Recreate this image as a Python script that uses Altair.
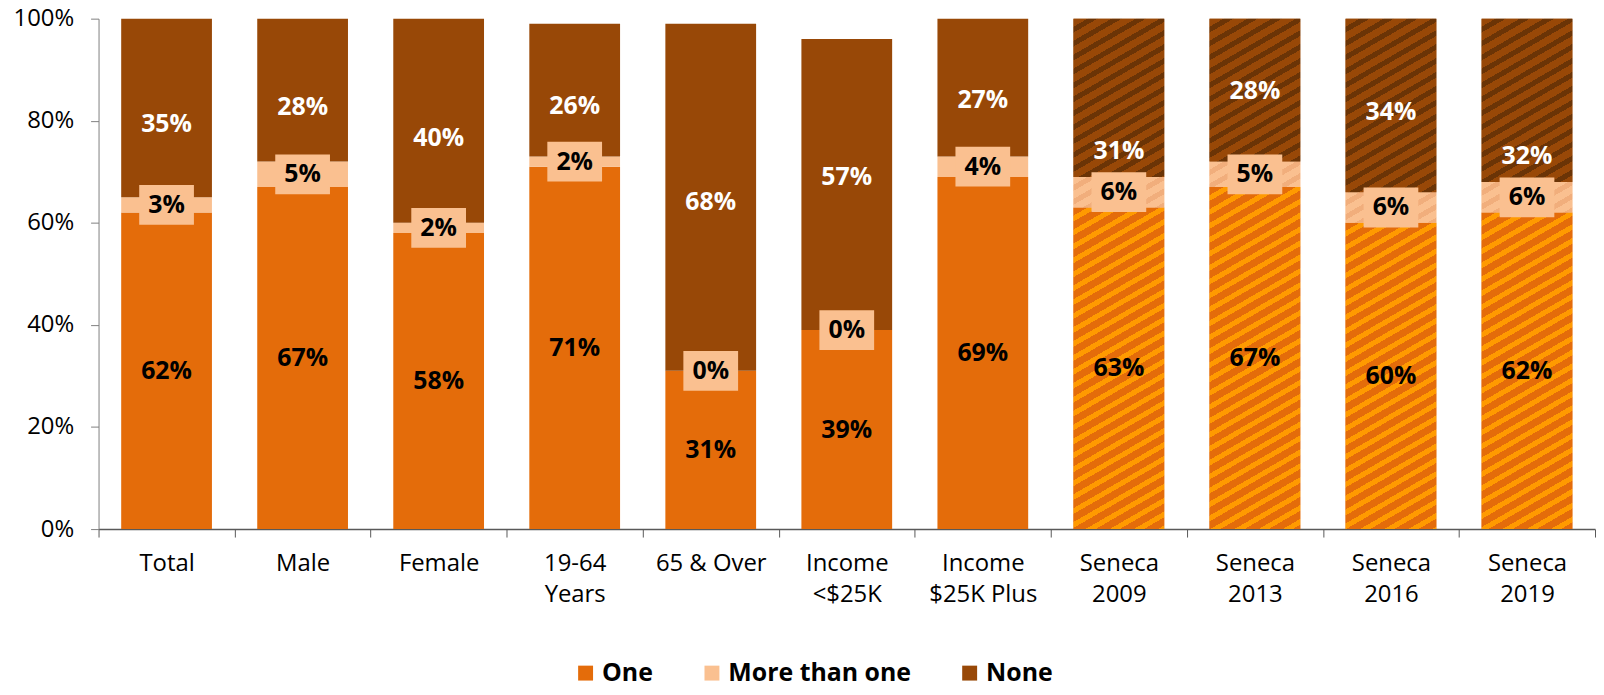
import math
import altair as alt

# ---------------- data ----------------
categories = ["Total", "Male", "Female", "19-64\nYears", "65 & Over",
              "Income\n<$25K", "Income\n$25K Plus", "Seneca\n2009",
              "Seneca\n2013", "Seneca\n2016", "Seneca\n2019"]
one = [62, 67, 58, 71, 31, 39, 69, 63, 67, 60, 62]
more_than_one = [3, 5, 2, 2, 0, 0, 4, 6, 5, 6, 6]
none = [35, 28, 40, 26, 68, 57, 27, 31, 28, 34, 32]
hatched = [False, False, False, False, False, False, False, True, True, True, True]
# where the "None" value labels sit (percent axis)
none_label_at = [79.4, 82.7, 76.7, 82.8, 64.0, 69.0, 84.0, 74.0, 85.8, 81.8, 73.0]

series_names = ["One", "More than one", "None"]
series_colors = ["#E46C0A", "#FAC090", "#984807"]
stripe_colors = ["#FF9A00", "#F1AE7C", "#6B3406"]

# ---------------- layout / style ----------------
PLOT_W = 1504
PLOT_H = 513
BAR_FRAC = 0.667
FONT = "Open Sans"
bar_px = PLOT_W / len(categories) * BAR_FRAC
ANGLE = math.radians(30)
PERIOD_V = 14.0
STRIPE_FRAC = 0.42


def stripes(h_px, base, stripe):
    """Diagonal hatch as a hard-stop linear gradient (bbox units)."""
    s, c = math.sin(ANGLE), math.cos(ANGLE)
    w = bar_px
    L = w * s + h_px * c
    k = L / (w * w * s * s + h_px * h_px * c * c)
    pp = PERIOD_V * c
    n = math.ceil(L / pp)
    stops = []
    for i in range(n):
        t0 = i * pp / L
        ta = min(1.0, t0 + (1 - STRIPE_FRAC) * pp / L)
        t1 = min(1.0, (i + 1) * pp / L)
        stops += [
            {"offset": round(t0, 5), "color": base},
            {"offset": round(ta, 5), "color": base},
            {"offset": round(ta, 5), "color": stripe},
            {"offset": round(t1, 5), "color": stripe},
        ]
    return {"gradient": "linear", "x1": 0, "y1": 0,
            "x2": round(k * w * s, 6), "y2": round(k * h_px * c, 6),
            "stops": stops}


records = []
for i, cat in enumerate(categories):
    vals = [one[i], more_than_one[i], none[i]]
    base = 0
    for j, name in enumerate(series_names):
        v = vals[j]
        y0, y1 = base, base + v
        base = y1
        ly = none_label_at[i] if name == "None" else (y0 + y1) / 2
        rec = {"cat": cat, "series": name, "order": j, "y0": y0, "y1": y1,
               "label": f"{v}%", "ly": ly, "hatched": hatched[i]}
        if hatched[i] and v > 0:
            rec["grad"] = stripes(v / 100 * PLOT_H, series_colors[j], stripe_colors[j])
        records.append(rec)

data = alt.Data(values=records)

x_axis = alt.Axis(title=None, labelAngle=0, tickBand="extent",
                  labelExpr="split(datum.label, '\\n')", labelLineHeight=31,
                  labelPadding=15, tickSize=8, domainColor="#595959",
                  domainWidth=1.5, tickColor="#595959", labelFontSize=24,
                  labelFont=FONT, labelColor="#000000")
x_enc = alt.X("cat:N", sort=categories,
              scale=alt.Scale(paddingInner=0, paddingOuter=0), axis=x_axis)
y_scale = alt.Scale(domain=[0, 100], nice=False)
y_axis = alt.Axis(title=None, values=[0, 20, 40, 60, 80, 100],
                  labelExpr="datum.value + '%'", grid=False, tickSize=8,
                  labelPadding=17, domainColor="#7F7F7F", tickColor="#7F7F7F",
                  labelFontSize=24, labelFont=FONT, labelColor="#000000")

legend = alt.Legend(title=None, orient="none", legendX=477, legendY=645,
                    direction="horizontal", symbolType="square", symbolSize=225,
                    symbolStrokeWidth=0, labelFont=FONT, labelFontWeight="bold",
                    labelFontSize=25, labelColor="#000000", columnPadding=46,
                    labelOffset=4, padding=0, labelLimit=400)

bars = alt.Chart(data).mark_bar(width=alt.RelativeBandSize(BAR_FRAC)).encode(
    x=x_enc,
    y=alt.Y("y0:Q", scale=y_scale, axis=y_axis),
    y2="y1:Q",
    color=alt.Color("series:N", sort=series_names,
                    scale=alt.Scale(domain=series_names, range=series_colors),
                    legend=legend),
)

hatch = alt.Chart(data).transform_filter(
    "datum.hatched && datum.grad != null"
).mark_bar(width=alt.RelativeBandSize(BAR_FRAC), aria=False).encode(
    x=x_enc,
    y=alt.Y("y0:Q", scale=y_scale, axis=y_axis),
    y2="y1:Q",
    fill=alt.Fill("grad:N", scale=None, legend=None),
)

boxes = alt.Chart(data).transform_filter(
    "datum.series == 'More than one'"
).mark_point(shape="M-1,-0.727L1,-0.727L1,0.727L-1,0.727Z", size=3025,
             filled=True, opacity=1, color="#FAC090", strokeWidth=0).encode(
    x=x_enc,
    y=alt.Y("ly:Q", scale=y_scale, axis=y_axis),
)

text_dark = alt.Chart(data).transform_filter(
    "datum.series != 'None'"
).mark_text(font=FONT, fontWeight="bold", fontSize=25, color="#000000",
            baseline="middle", align="center").encode(
    x=x_enc,
    y=alt.Y("ly:Q", scale=y_scale, axis=y_axis),
    text="label:N",
)

text_light = alt.Chart(data).transform_filter(
    "datum.series == 'None'"
).mark_text(font=FONT, fontWeight="bold", fontSize=25, color="#FFFFFF",
            baseline="middle", align="center").encode(
    x=x_enc,
    y=alt.Y("ly:Q", scale=y_scale, axis=y_axis),
    text="label:N",
)

chart = alt.layer(bars, hatch, boxes, text_dark, text_light).properties(
    width=PLOT_W,
    height=PLOT_H,
    autosize=alt.AutoSizeParams(type="none"),
    padding={"left": 91, "top": 9, "right": 1, "bottom": 157},
).configure_view(strokeWidth=0)

chart.save("out.html", embed_options={"renderer": "svg", "actions": False})
